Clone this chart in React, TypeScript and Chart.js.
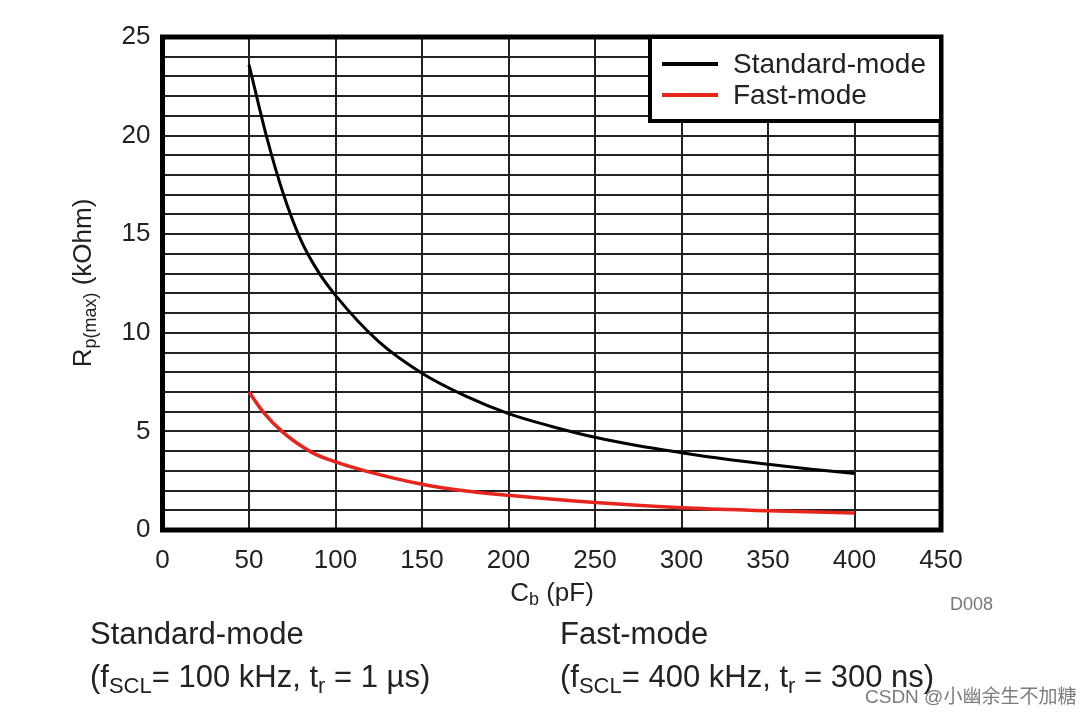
import React, { useEffect, useRef } from "react";
import { Chart, registerables } from "chart.js";

Chart.register(...registerables);

// Cb (pF) and Rp(max) (kOhm)
const standardCb = [50, 60, 70, 80, 90, 100, 125, 150, 175, 200, 225, 250, 275, 300, 325, 350, 375, 400];
const standardMode = [23.6, 20.0, 17.0, 14.7, 13.1, 11.9, 9.55, 7.95, 6.8, 5.9, 5.25, 4.7, 4.27, 3.92, 3.6, 3.33, 3.08, 2.87];
const fastCb = [50, 58, 69, 86, 100, 117, 150, 172, 200, 250, 300, 350, 400];
const fastMode = [7.0, 6.0, 5.0, 3.95, 3.45, 3.0, 2.32, 2.02, 1.76, 1.39, 1.13, 0.98, 0.86];

const seriesNames = ["Standard-mode", "Fast-mode"];
const seriesColors = ["#000000", "#e8251c"];
const xMin = 0;
const xMax = 450;
const xStep = 50;
const yMin = 0;
const yMax = 25;
const yLabelStep = 5;

const FONT = "'Liberation Sans', Arial, sans-serif";

const overlayPlugin = {
  id: "overlay",
  afterDraw(chart: any) {
    const { ctx, chartArea } = chart;
    const { left, right, top, bottom } = chartArea;
    ctx.save();

    // plot border
    ctx.strokeStyle = "#000";
    ctx.lineWidth = 5;
    ctx.strokeRect(left, top, right - left, bottom - top);

    // legend box
    const lx = 650;
    const ly = top;
    const lw = right - lx;
    const lh = 121 - top;
    ctx.fillStyle = "#fff";
    ctx.fillRect(lx, ly, lw, lh);
    ctx.lineWidth = 4;
    ctx.strokeRect(lx, ly, lw, lh);

    ctx.font = `28px ${FONT}`;
    ctx.textBaseline = "middle";
    ctx.textAlign = "left";
    seriesNames.forEach((name, i) => {
      const yy = 64 + i * 31;
      ctx.strokeStyle = seriesColors[i];
      ctx.lineWidth = 4;
      ctx.beginPath();
      ctx.moveTo(662, yy);
      ctx.lineTo(718, yy);
      ctx.stroke();
      ctx.fillStyle = "#222";
      ctx.fillText(name, 733, yy + 1);
    });

    // x axis title: C_b (pF)
    {
      const big = `26px ${FONT}`;
      const small = `18px ${FONT}`;
      ctx.font = big;
      const wC = ctx.measureText("C").width;
      const wRest = ctx.measureText(" (pF)").width;
      ctx.font = small;
      const wb = ctx.measureText("b").width;
      const total = wC + wb + wRest;
      let x = 552 - total / 2;
      const y = 601;
      ctx.textBaseline = "alphabetic";
      ctx.fillStyle = "#222";
      ctx.font = big;
      ctx.fillText("C", x, y);
      x += wC;
      ctx.font = small;
      ctx.fillText("b", x, y + 4);
      x += wb;
      ctx.font = big;
      ctx.fillText(" (pF)", x, y);
    }

    // y axis title: R_p(max) (kOhm)
    {
      ctx.translate(91, 283);
      ctx.rotate(-Math.PI / 2);
      const big = `26px ${FONT}`;
      const small = `18px ${FONT}`;
      ctx.font = big;
      const wR = ctx.measureText("R").width;
      const wRest = ctx.measureText(" (kOhm)").width;
      ctx.font = small;
      const wp = ctx.measureText("p(max)").width;
      const total = wR + wp + wRest;
      let x = -total / 2;
      ctx.textBaseline = "alphabetic";
      ctx.fillStyle = "#222";
      ctx.font = big;
      ctx.fillText("R", x, 0);
      x += wR;
      ctx.font = small;
      ctx.fillText("p(max)", x, 5);
      x += wp;
      ctx.font = big;
      ctx.fillText(" (kOhm)", x, 0);
    }
    ctx.restore();
  },
};

export default function App() {
  const canvasRef = useRef<HTMLCanvasElement | null>(null);

  useEffect(() => {
    if (!canvasRef.current) return;
    const chart = new Chart(canvasRef.current, {
      type: "line",
      data: {
        datasets: [
          {
            label: seriesNames[0],
            data: standardCb.map((c, i) => ({ x: c, y: standardMode[i] })),
            borderColor: seriesColors[0],
            borderWidth: 3,
            pointRadius: 0,
            cubicInterpolationMode: "monotone",
            fill: false,
          },
          {
            label: seriesNames[1],
            data: fastCb.map((c, i) => ({ x: c, y: fastMode[i] })),
            borderColor: seriesColors[1],
            borderWidth: 3.5,
            pointRadius: 0,
            cubicInterpolationMode: "monotone",
            fill: false,
          },
        ],
      },
      options: {
        animation: false,
        responsive: false,
        maintainAspectRatio: false,
        layout: { padding: { left: 0, top: 37, right: 149, bottom: 716 - 530 - 60 } },
        plugins: {
          legend: { display: false },
          tooltip: { enabled: false },
        },
        scales: {
          x: {
            type: "linear",
            min: xMin,
            max: xMax,
            afterFit: (scale: any) => {
              scale.height = 60;
            },
            ticks: {
              stepSize: xStep,
              color: "#222",
              font: { family: FONT, size: 26 },
              padding: 15,
              maxRotation: 0,
            },
            grid: { color: "#222", lineWidth: 2, drawTicks: false },
            border: { display: false },
          },
          y: {
            type: "linear",
            min: yMin,
            max: yMax,
            afterFit: (scale: any) => {
              scale.width = 162.5;
            },
            ticks: {
              stepSize: 1,
              autoSkip: false,
              color: "#222",
              font: { family: FONT, size: 26 },
              padding: 12,
              callback: (v: any) => (Number(v) % yLabelStep === 0 ? String(v) : ""),
            },
            grid: { color: "#222", lineWidth: 2, drawTicks: false },
            border: { display: false },
          },
        },
      },
      plugins: [overlayPlugin],
    } as any);
    return () => chart.destroy();
  }, []);

  const textStyle: React.CSSProperties = {
    position: "absolute",
    fontFamily: FONT,
    fontSize: 31,
    lineHeight: "31px",
    color: "#222",
    whiteSpace: "nowrap",
  };
  const subStyle: React.CSSProperties = { fontSize: 22, verticalAlign: "-6px", lineHeight: 0 };

  return (
    <div style={{ position: "fixed", left: 0, top: 0, width: 1090, height: 716, background: "#fff" }}>
      <canvas ref={canvasRef} width={1090} height={716} style={{ position: "absolute", left: 0, top: 0 }} />
      <div style={{ ...textStyle, left: 950, top: 595, fontSize: 18, lineHeight: "18px", color: "#777" }}>D008</div>
      <div style={{ ...textStyle, left: 90, top: 618 }}>Standard-mode</div>
      <div style={{ ...textStyle, left: 90, top: 661 }}>
        (f<span style={subStyle}>SCL</span>= 100 kHz, t<span style={subStyle}>r</span> = 1 µs)
      </div>
      <div style={{ ...textStyle, left: 560, top: 618 }}>Fast-mode</div>
      <div style={{ ...textStyle, left: 560, top: 661 }}>
        (f<span style={subStyle}>SCL</span>= 400 kHz, t<span style={subStyle}>r</span> = 300 ns)
      </div>
      <div
        style={{
          position: "absolute",
          left: 865,
          top: 685,
          fontSize: 19,
          lineHeight: "24px",
          color: "rgba(110,110,110,0.9)",
          fontFamily: "'Liberation Sans', 'Noto Sans CJK SC', sans-serif",
          whiteSpace: "nowrap",
        }}
      >
        CSDN @小幽余生不加糖
      </div>
    </div>
  );
}
